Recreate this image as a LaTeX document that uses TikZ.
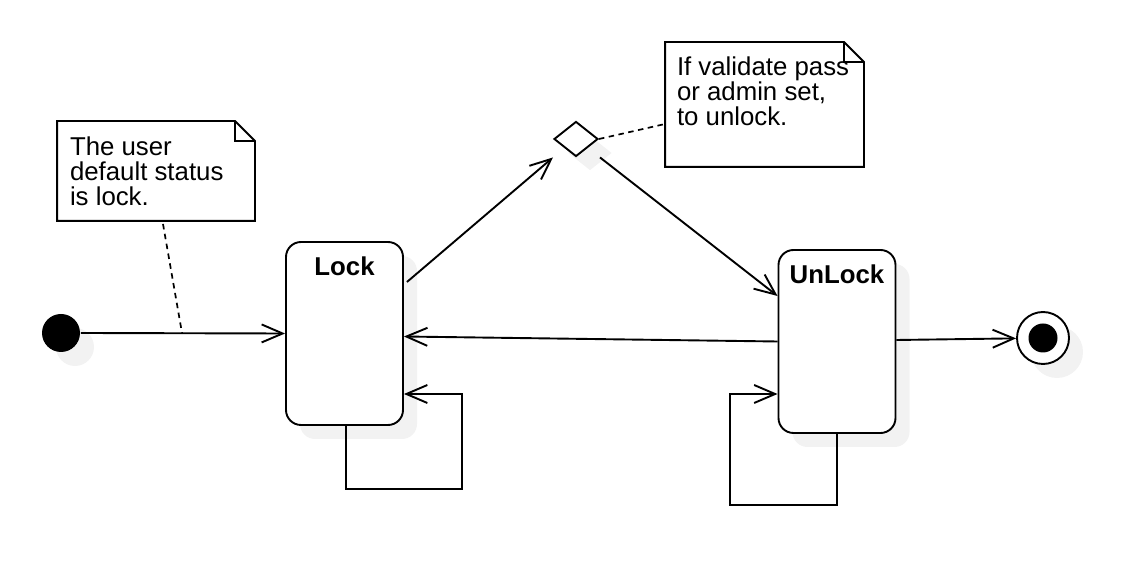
\documentclass[tikz,border=0pt]{standalone}
\usepackage{fontspec}
\setmainfont{Liberation Sans}
\usetikzlibrary{arrows.meta,shapes.geometric,shadows}

\begin{document}
\begin{tikzpicture}[x=0.5pt, y=-0.5pt, line width=0.95pt,
    font=\fontsize{12.9}{12.5}\selectfont,
    >={Straight Barb[length=10.5pt,width=9pt]},
    castshadow/.style={drop shadow={shadow xshift=7pt, shadow yshift=-7pt, fill=black!5, opacity=1}},
    state/.style={draw, fill=white, rounded corners=7.5pt, minimum width=58.5pt, minimum height=91.5pt, inner sep=0pt, castshadow},
    statename/.style={font=\fontsize{12.9}{12.5}\selectfont\bfseries, anchor=base, yshift=-17pt},
    initial/.style={circle, fill=black, minimum size=19pt, inner sep=0pt, castshadow},
    final/.style={circle, draw, fill=white, minimum size=26pt, inner sep=0pt, castshadow,
        path picture={\fill[black] (path picture bounding box.center) circle (7.25pt);}},
    choice/.style={diamond, draw, fill=white, minimum width=22pt, minimum height=17.5pt, inner sep=0pt, castshadow},
    notebox/.style={minimum width=98pt, inner sep=0pt},
    notetext/.style={anchor=north west, inner sep=0pt, align=left},
    notelink/.style={dash pattern=on 2.75pt off 2.25pt, line width=0.85pt}]

    \useasboundingbox (0,0) rectangle (1126,566);

    \node[initial] (start) at (61,333) {};
    \node[state, label={[statename]north:Lock}] (lock) at (344.5,333.5) {};
    \node[state, label={[statename]north:UnLock}] (unlock) at (837,341.5) {};
    \node[final] (stop) at (1043,338) {};
    \node[choice] (check) at (576,139) {};

    % notes
    \node[notebox, minimum height=49pt] (note1) at (156,171) {};
    \draw (note1.north west) -- ([xshift=-10pt]note1.north east) -- ([yshift=-10pt]note1.north east)
        -- (note1.south east) -- (note1.south west) -- cycle;
    \draw ([xshift=-10pt]note1.north east) |- ([yshift=-10pt]note1.north east);
    \node[notetext] (note1text) at ([xshift=6pt,yshift=-7.2pt]note1.north west) {The user\\default status\\is lock.};

    \node[notebox, minimum width=98.5pt, minimum height=61.5pt] (note2) at (764.5,104.5) {};
    \draw (note2.north west) -- ([xshift=-10pt]note2.north east) -- ([yshift=-10pt]note2.north east)
        -- (note2.south east) -- (note2.south west) -- cycle;
    \draw ([xshift=-10pt]note2.north east) |- ([yshift=-10pt]note2.north east);
    \node[notetext] (note2text) at ([xshift=5.5pt,yshift=-6.8pt]note2.north west) {If validate pass\\or admin set,\\to unlock.};

    % transitions
    \coordinate (startlink) at (182,333);
    \draw[->] (start.east) -- (lock.west);
    \draw[notelink] ([xshift=3.5pt,yshift=-1.5pt]note1.south) -- (startlink);
    \draw[->] ([xshift=1.5pt,yshift=25.75pt]lock.east) -- ([xshift=-11.5pt]check.south);
    \draw[->] ([xshift=12pt]check.south) -- ([yshift=22.75pt]unlock.west);
    \draw[notelink] (check.east) -- ([yshift=-9.75pt]note2.west);
    \draw[->] (unlock.west) -- ([yshift=-1.5pt]lock.east);
    \draw[->] ([yshift=0.75pt]unlock.east) -- (stop);

    \coordinate (lockloop) at (462,489);
    \draw[->] ([xshift=.75pt]lock.south) |- (lockloop) |- ([yshift=-30.25pt]lock.east);
    \coordinate (unlockloop) at (730,505);
    \draw[->] (unlock.south) |- (unlockloop) |- ([yshift=-26.25pt]unlock.west);
    %
\end{tikzpicture}
\end{document}
